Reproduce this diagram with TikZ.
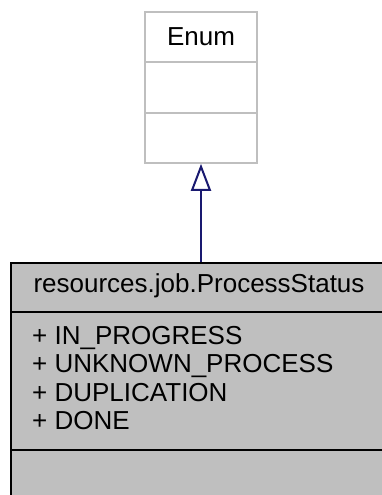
\documentclass[tikz,border=0pt]{standalone}
\usepackage{fontspec}
\setmainfont{Liberation Sans}
\usepackage{xcolor}
\usepackage{tikz}
\usetikzlibrary{positioning, arrows.meta}

\definecolor{umlgray}{HTML}{BFBFBF}
\definecolor{edgeblue}{HTML}{191970}

\begin{document}
\begin{tikzpicture}[
    x=1pt, y=-1pt,
    classbox/.style={rectangle, draw, line width=1.6pt, inner sep=0pt},
    basebox/.style={classbox, draw=umlgray, fill=white},
    mainbox/.style={classbox, draw=black, fill=umlgray},
    txt/.style={font=\fontsize{26}{28.5}\selectfont, inner sep=0pt},
    member/.style={txt, anchor=base west},
    inherit/.style={-{Triangle[open, length=27pt, width=20pt, line width=2pt]}, line width=2pt, draw=edgeblue}
]
\useasboundingbox (0,0) rectangle (381,495);

% Base class
\node[basebox, minimum width=112, minimum height=151] (enum) at (201,87.5) {};
\node[txt] (enumname) at (201,37) {Enum};
\draw[umlgray, line width=1.6pt] (enum.west |- 0,62) -- (enum.east |- 0,62);
\draw[umlgray, line width=1.6pt] (enum.west |- 0,113) -- (enum.east |- 0,113);

% Derived class (runs past the page edge, as in the source)
\node[mainbox, minimum width=380, minimum height=250, anchor=north west] (status) at (10,262) {};
\node[txt] (statusname) at (199,286) {resources.job.ProcessStatus};
\draw[line width=1.6pt] (status.west |- 0,312) -- (status.east |- 0,312);
\node[member] (m1) at (32,344) {+ IN\_PROGRESS};
\node[member] (m2) at (32,372.5) {+ UNKNOWN\_PROCESS};
\node[member] (m3) at (32,401) {+ DUPLICATION};
\node[member] (m4) at (32,429.5) {+ DONE};
\draw[line width=1.6pt] (status.west |- 0,450) -- (status.east |- 0,450);

% Generalisation
\draw[inherit] (enum.south |- status.north) -- (enum.south);

\end{tikzpicture}
\end{document}
